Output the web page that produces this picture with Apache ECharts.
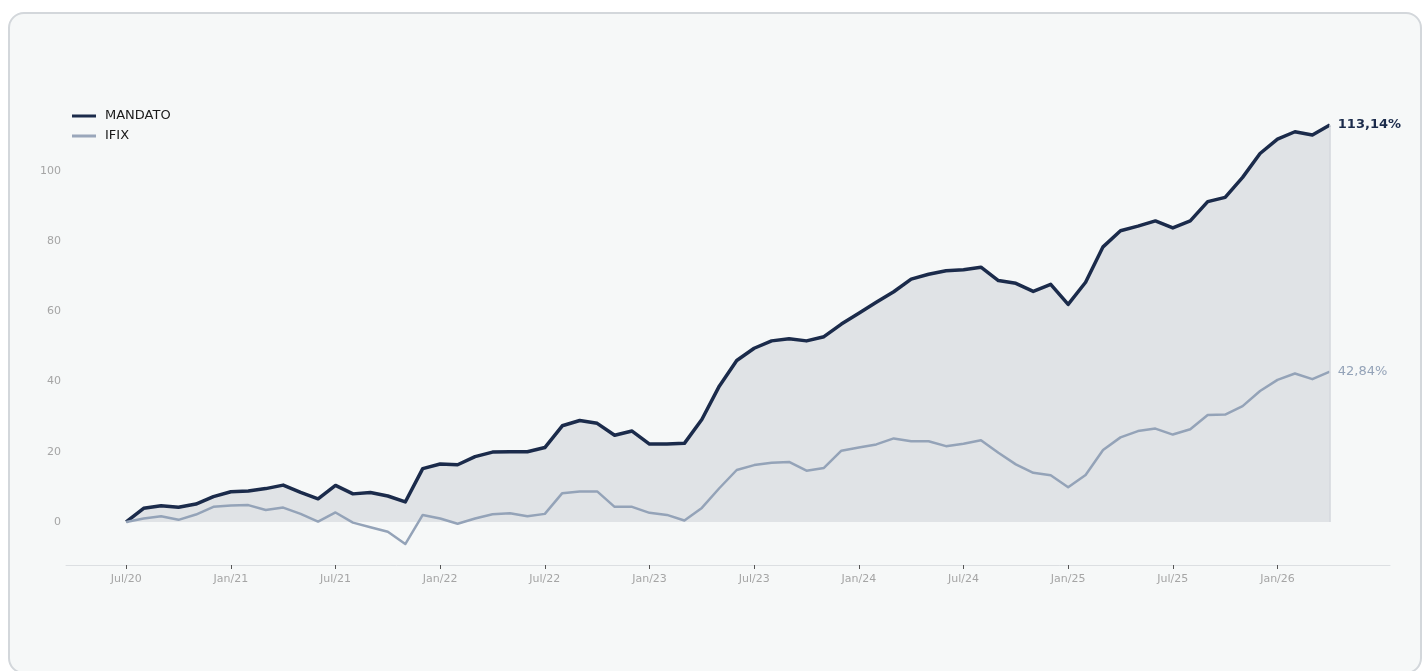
<!DOCTYPE html>
<html>
<head>
<meta charset="utf-8">
<script src="https://cdn.jsdelivr.net/npm/echarts@6/dist/echarts.min.js"></script>
<style>
  html, body { margin: 0; padding: 0; background: #ffffff; width: 1428px; height: 671px; overflow: hidden; }
  #card { position: absolute; left: 8px; top: 12px; width: 1410px; height: 658px; border: 2px solid #d3d7db; border-radius: 16px; background: #f6f8f8; }
  #chart { position: absolute; left: 0; top: 0; width: 1428px; height: 671px; }
</style>
</head>
<body>
<div id="card"></div>
<div id="chart"></div>
<script>
// Months from Jul/20 (index 0) to Apr/26 (index 69)
const mandato = [0, 3.9, 4.6, 4.2, 5.1, 7.2, 8.6, 8.8, 9.5, 10.5,
  8.4, 6.6, 10.4, 8.0, 8.4, 7.4, 5.7, 15.2, 16.5, 16.3,
  18.6, 19.9, 20.0, 20.0, 21.2, 27.4, 28.9, 28.1, 24.7, 25.9,
  22.2, 22.2, 22.4, 29.2, 38.7, 46.0, 49.5, 51.6, 52.2, 51.6,
  52.8, 56.4, 59.5, 62.6, 65.6, 69.2, 70.6, 71.6, 71.9, 72.6,
  68.8, 68.0, 65.7, 67.7, 62.0, 68.3, 78.4, 83.0, 84.3, 85.8,
  83.8, 85.8, 91.3, 92.5, 98.2, 105.0, 109.1, 111.2, 110.3, 113.14];
const ifix = [0, 1.0, 1.6, 0.6, 2.1, 4.3, 4.7, 4.8, 3.4, 4.1,
  2.3, 0.1, 2.7, -0.2, -1.5, -2.8, -6.3, 2.0, 1.0, -0.5,
  1.0, 2.2, 2.5, 1.6, 2.3, 8.2, 8.7, 8.7, 4.3, 4.3,
  2.6, 2.0, 0.4, 4.0, 9.6, 14.8, 16.2, 16.9, 17.1, 14.6,
  15.4, 20.3, 21.2, 22.1, 23.8, 23.0, 23.0, 21.6, 22.3, 23.3,
  19.7, 16.4, 14.0, 13.3, 9.9, 13.4, 20.5, 24.1, 25.9, 26.6,
  24.9, 26.4, 30.5, 30.6, 33.0, 37.3, 40.5, 42.3, 40.7, 42.84];
const tickIdx = [0, 6, 12, 18, 24, 30, 36, 42, 48, 54, 60, 66];
const tickLabels = ["Jul/20", "Jan/21", "Jul/21", "Jan/22", "Jul/22", "Jan/23", "Jul/23", "Jan/24", "Jul/24", "Jan/25", "Jul/25", "Jan/26"];
const yTicks = [0, 20, 40, 60, 80, 100];
const seriesNames = ["MANDATO", "IFIX"];

const toPairs = arr => arr.map((v, i) => [i, v]);
const n = mandato.length;
const xPad = (n - 1) * 0.05;
const all = mandato.concat(ifix);
const yMinD = Math.min(...all), yMaxD = Math.max(...all);
const yPad = (yMaxD - yMinD) * 0.05;
const fmt = v => v.toFixed(2).replace('.', ',') + '%';
const FONT = 'DejaVu Sans';

const chart = echarts.init(document.getElementById('chart'), null, { renderer: 'canvas' });
chart.setOption({
  backgroundColor: 'transparent',
  animation: false,
  textStyle: { fontFamily: FONT },
  grid: { left: 66, right: 38, top: 104, bottom: 106, containLabel: false },
  legend: {
    left: 72, top: 109, orient: 'vertical', padding: 0,
    icon: 'rect', itemWidth: 24, itemHeight: 3, itemGap: 6,
    textStyle: { fontFamily: FONT, fontSize: 13, color: '#1a1a1a', padding: [0, 0, 0, 4], lineHeight: 14 },
    data: [
      { name: seriesNames[0], itemStyle: { color: '#1b2b4b' } },
      { name: seriesNames[1], itemStyle: { color: '#9aa7bb' } }
    ]
  },
  xAxis: {
    type: 'value', min: -xPad, max: (n - 1) + xPad,
    splitLine: { show: false },
    axisLine: { show: true, onZero: false, lineStyle: { color: '#dcdfe2', width: 1 } },
    axisTick: { show: true, customValues: tickIdx, length: 4, lineStyle: { color: '#555' } },
    axisLabel: {
      customValues: tickIdx, margin: 9, fontSize: 11, color: '#a5a5a5', fontFamily: FONT,
      formatter: v => tickLabels[tickIdx.indexOf(Math.round(v))] || ''
    }
  },
  yAxis: {
    type: 'value', min: yMinD - yPad, max: yMaxD + yPad,
    splitLine: { show: false },
    axisLine: { show: false }, axisTick: { show: false },
    axisLabel: { customValues: yTicks, margin: 5, fontSize: 11, color: '#a5a5a5', fontFamily: FONT }
  },
  series: [
    {
      name: seriesNames[0], type: 'line', data: toPairs(mandato),
      showSymbol: false, symbol: 'none', z: 3,
      lineStyle: { color: '#1b2b4b', width: 3.5, join: 'round' },
      itemStyle: { color: '#1b2b4b' },
      areaStyle: { color: '#e0e3e6', opacity: 1, origin: 0 },
      endLabel: {
        show: true, distance: 8, formatter: p => fmt(p.value[1]),
        fontFamily: FONT, fontSize: 13, fontWeight: 'bold', color: '#1b2b4b'
      },
      markLine: {
        silent: true, symbol: 'none', label: { show: false },
        lineStyle: { color: '#d3d7dc', width: 1.5, type: 'solid' },
        data: [[{ coord: [n - 1, 0] }, { coord: [n - 1, mandato[n - 1]] }]]
      }
    },
    {
      name: seriesNames[1], type: 'line', data: toPairs(ifix),
      showSymbol: false, symbol: 'none', z: 4,
      lineStyle: { color: '#94a3b8', width: 2.5, join: 'round' },
      itemStyle: { color: '#94a3b8' },
      endLabel: {
        show: true, distance: 8, formatter: p => fmt(p.value[1]),
        fontFamily: FONT, fontSize: 13, color: '#94a3b8'
      }
    }
  ]
});
</script>
</body>
</html>
